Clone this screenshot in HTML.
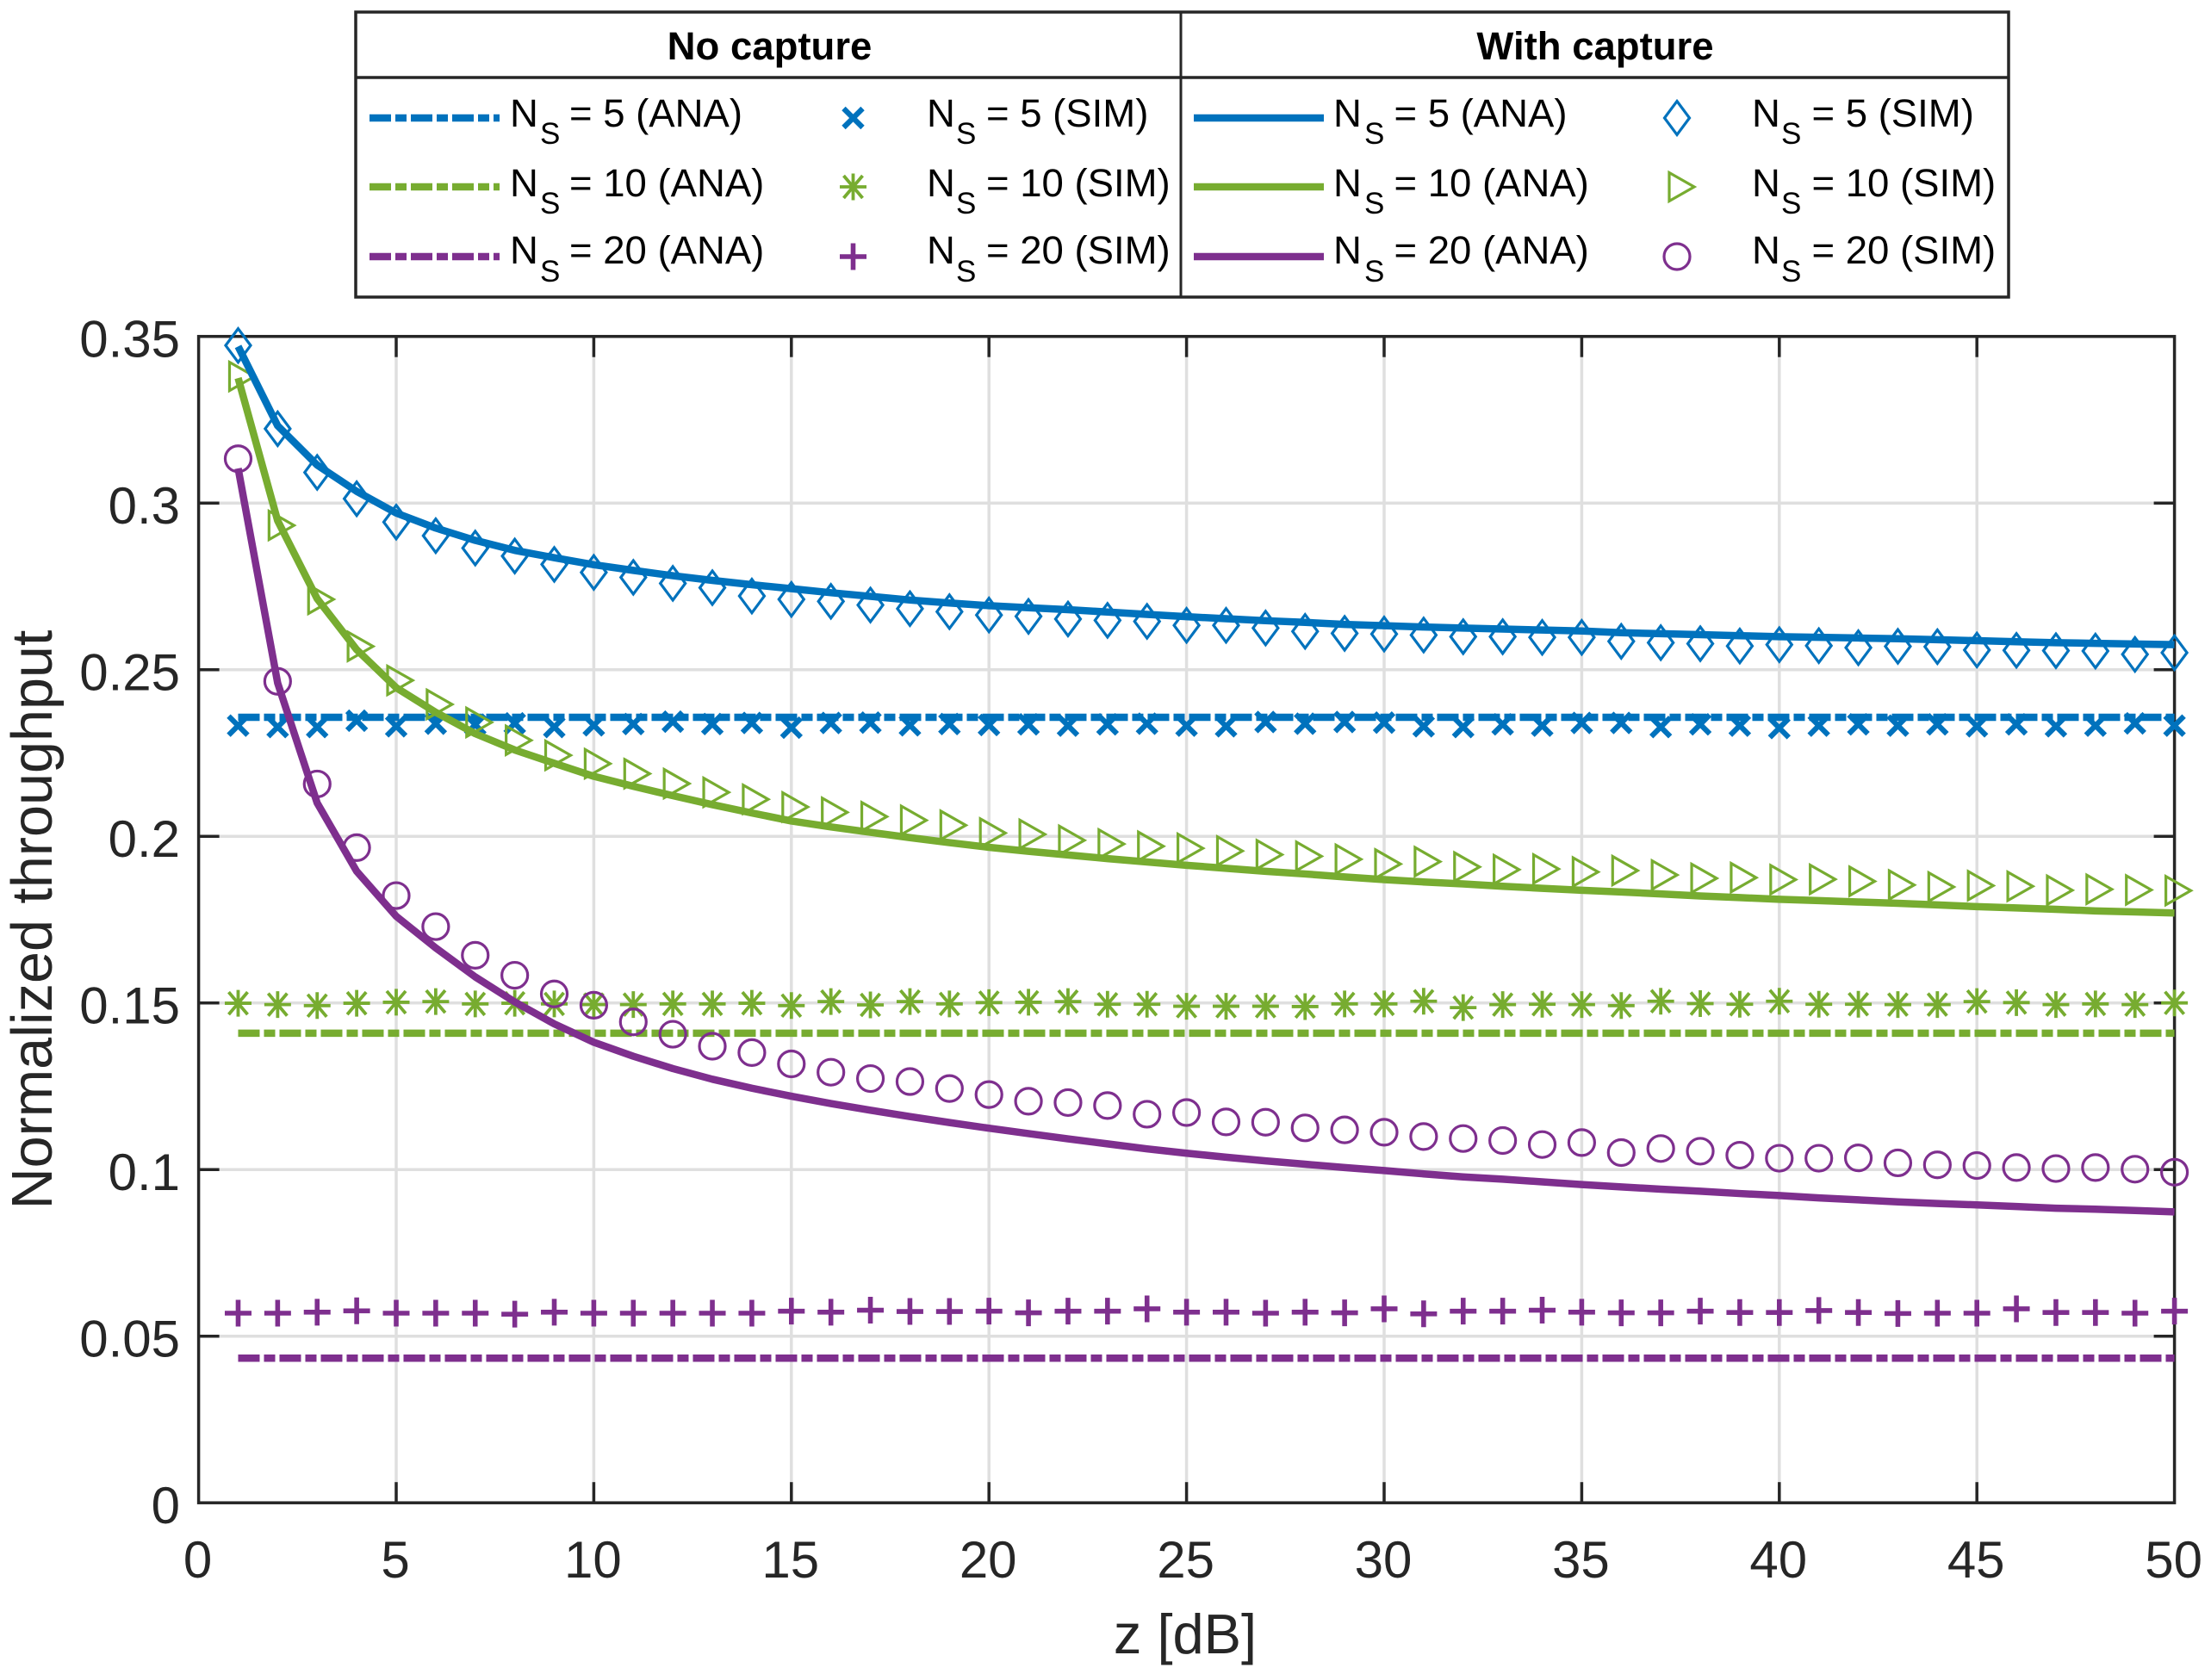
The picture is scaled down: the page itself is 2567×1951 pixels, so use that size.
<!DOCTYPE html>
<html lang="en">
<head>
<meta charset="utf-8">
<title>Normalized throughput vs z</title>
<style>
html,body{margin:0;padding:0;background:#fff;}
svg{display:block;font-family:"Liberation Sans",Arial,sans-serif;}
.lg{font-size:45.5px;fill:#000;}
.lg .sub{font-size:35px;}
.hd{font-size:45.5px;font-weight:bold;fill:#000;text-anchor:middle;}
.tick{font-size:60px;fill:#262626;}
.title{fill:#262626;}
</style>
</head>
<body>
<svg id="chart" xmlns="http://www.w3.org/2000/svg" width="2567" height="1951" viewBox="0 0 2567 1951">
  <rect x="0" y="0" width="2567" height="1951" fill="#ffffff"/>
  <g id="grid"></g>
  <g id="axes"></g>
  <g id="marks"></g>
  <text class="title" x="1376" y="1920" font-size="65" text-anchor="middle">z [dB]</text>
  <text class="title" transform="translate(60,1068) rotate(-90)" font-size="66.5" text-anchor="middle">Normalized throughput</text>

  <g id="legend">
    <rect x="413" y="14" width="1919" height="331" fill="#ffffff" stroke="#262626" stroke-width="3.5"/>
    <line x1="413" x2="2332" y1="90" y2="90" stroke="#262626" stroke-width="3.5"/>
    <line x1="1371" x2="1371" y1="14" y2="345" stroke="#262626" stroke-width="3"/>
    <text class="hd" x="893.5" y="69">No capture</text>
    <text class="hd" x="1852" y="69">With capture</text>

    <line x1="429" x2="580" y1="137" y2="137" stroke="#0072BD" stroke-width="8.5" stroke-dasharray="25 5 13 5"/>
    <line x1="429" x2="580" y1="217" y2="217" stroke="#77AC30" stroke-width="8.5" stroke-dasharray="25 5 13 5"/>
    <line x1="429" x2="580" y1="298" y2="298" stroke="#7E2F8E" stroke-width="8.5" stroke-dasharray="25 5 13 5"/>
    <line x1="1386" x2="1537" y1="137" y2="137" stroke="#0072BD" stroke-width="8.5"/>
    <line x1="1386" x2="1537" y1="217" y2="217" stroke="#77AC30" stroke-width="8.5"/>
    <line x1="1386" x2="1537" y1="298" y2="298" stroke="#7E2F8E" stroke-width="8.5"/>

    <text class="lg"><tspan x="592" y="147">N</tspan><tspan class="sub" x="627" y="167">S</tspan><tspan x="661" y="147">= 5 (ANA)</tspan></text>
    <text class="lg"><tspan x="592" y="228">N</tspan><tspan class="sub" x="627" y="248">S</tspan><tspan x="661" y="228">= 10 (ANA)</tspan></text>
    <text class="lg"><tspan x="592" y="306">N</tspan><tspan class="sub" x="627" y="327">S</tspan><tspan x="661" y="306">= 20 (ANA)</tspan></text>

    <text class="lg"><tspan x="1076" y="147">N</tspan><tspan class="sub" x="1110" y="167">S</tspan><tspan x="1145" y="147">= 5 (SIM)</tspan></text>
    <text class="lg"><tspan x="1076" y="228">N</tspan><tspan class="sub" x="1110" y="248">S</tspan><tspan x="1145" y="228">= 10 (SIM)</tspan></text>
    <text class="lg"><tspan x="1076" y="306">N</tspan><tspan class="sub" x="1110" y="327">S</tspan><tspan x="1145" y="306">= 20 (SIM)</tspan></text>

    <text class="lg"><tspan x="1548" y="147">N</tspan><tspan class="sub" x="1584" y="167">S</tspan><tspan x="1618.5" y="147">= 5 (ANA)</tspan></text>
    <text class="lg"><tspan x="1548" y="228">N</tspan><tspan class="sub" x="1584" y="248">S</tspan><tspan x="1618.5" y="228">= 10 (ANA)</tspan></text>
    <text class="lg"><tspan x="1548" y="306">N</tspan><tspan class="sub" x="1584" y="327">S</tspan><tspan x="1618.5" y="306">= 20 (ANA)</tspan></text>

    <text class="lg"><tspan x="2034" y="147">N</tspan><tspan class="sub" x="2068" y="167">S</tspan><tspan x="2103.5" y="147">= 5 (SIM)</tspan></text>
    <text class="lg"><tspan x="2034" y="228">N</tspan><tspan class="sub" x="2068" y="248">S</tspan><tspan x="2103.5" y="228">= 10 (SIM)</tspan></text>
    <text class="lg"><tspan x="2034" y="306">N</tspan><tspan class="sub" x="2068" y="327">S</tspan><tspan x="2103.5" y="306">= 20 (SIM)</tspan></text>
    <g id="legend-markers"></g>
  </g>
</svg>
<script>
const zValues = [1,2,3,4,5,6,7,8,9,10,11,12,13,14,15,16,17,18,19,20,21,22,23,24,25,26,27,28,29,30,31,32,33,34,35,36,37,38,39,40,41,42,43,44,45,46,47,48,49,50];
const xTicks = [0,5,10,15,20,25,30,35,40,45,50];
const yTicks = [0,0.05,0.1,0.15,0.2,0.25,0.3,0.35];
const yTickLabels = ['0','0.05','0.1','0.15','0.2','0.25','0.3','0.35'];

const anaNoCap5 = [.2357,.2357,.2357,.2357,.2357,.2357,.2357,.2357,.2357,.2357,.2357,.2357,.2357,.2357,.2357,.2357,.2357,.2357,.2357,.2357,.2357,.2357,.2357,.2357,.2357,.2357,.2357,.2357,.2357,.2357,.2357,.2357,.2357,.2357,.2357,.2357,.2357,.2357,.2357,.2357,.2357,.2357,.2357,.2357,.2357,.2357,.2357,.2357,.2357,.2357];
const anaNoCap10 = [.1409,.1409,.1409,.1409,.1409,.1409,.1409,.1409,.1409,.1409,.1409,.1409,.1409,.1409,.1409,.1409,.1409,.1409,.1409,.1409,.1409,.1409,.1409,.1409,.1409,.1409,.1409,.1409,.1409,.1409,.1409,.1409,.1409,.1409,.1409,.1409,.1409,.1409,.1409,.1409,.1409,.1409,.1409,.1409,.1409,.1409,.1409,.1409,.1409,.1409];
const anaNoCap20 = [.0434,.0434,.0434,.0434,.0434,.0434,.0434,.0434,.0434,.0434,.0434,.0434,.0434,.0434,.0434,.0434,.0434,.0434,.0434,.0434,.0434,.0434,.0434,.0434,.0434,.0434,.0434,.0434,.0434,.0434,.0434,.0434,.0434,.0434,.0434,.0434,.0434,.0434,.0434,.0434,.0434,.0434,.0434,.0434,.0434,.0434,.0434,.0434,.0434,.0434];

const simNoCap5 = [.2332,.2328,.2328,.2347,.2330,.2338,.2335,.2339,.2328,.2333,.2337,.2344,.2337,.2340,.2326,.2340,.2341,.2333,.2337,.2334,.2336,.2332,.2336,.2338,.2332,.2330,.2343,.2338,.2343,.2341,.2330,.2328,.2336,.2332,.2340,.2340,.2328,.2336,.2332,.2325,.2332,.2336,.2332,.2336,.2330,.2336,.2330,.2332,.2339,.2332];
const simNoCap10 = [.1499,.1495,.1492,.1499,.1502,.1504,.1497,.1499,.1497,.1495,.1495,.1497,.1497,.1499,.1492,.1504,.1494,.1504,.1497,.1501,.1502,.1504,.1496,.1496,.1490,.1490,.1490,.1489,.1497,.1497,.1505,.1486,.1495,.1496,.1495,.1492,.1505,.1498,.1496,.1505,.1496,.1496,.1495,.1495,.1504,.1501,.1495,.1497,.1495,.1500];
const simNoCap20 = [.0569,.0569,.0572,.0576,.0569,.0569,.0569,.0566,.0572,.0569,.0569,.0569,.0569,.0569,.0575,.0572,.0578,.0574,.0574,.0575,.0570,.0575,.0575,.0582,.0572,.0572,.0569,.0572,.0570,.0582,.0567,.0575,.0575,.0578,.0572,.0570,.0570,.0575,.0571,.0571,.0577,.0571,.0568,.0569,.0569,.0582,.0571,.0571,.0569,.0575];

const anaCap5 = [.3470,.3232,.3114,.3035,.2970,.2925,.2888,.2858,.2836,.2815,.2798,.2782,.2768,.2755,.2743,.2731,.2720,.2709,.2700,.2692,.2686,.2680,.2673,.2666,.2659,.2653,.2647,.2642,.2636,.2632,.2628,.2625,.2622,.2619,.2616,.2611,.2608,.2605,.2602,.2599,.2597,.2595,.2593,.2590,.2587,.2584,.2581,.2579,.2577,.2575];
const anaCap10 = [.3375,.2947,.2713,.2560,.2446,.2372,.2308,.2259,.2219,.2180,.2150,.2122,.2095,.2070,.2046,.2028,.2012,.1996,.1981,.1967,.1955,.1944,.1933,.1923,.1913,.1904,.1895,.1887,.1878,.1870,.1863,.1857,.1850,.1844,.1838,.1833,.1827,.1821,.1816,.1811,.1807,.1803,.1799,.1794,.1789,.1785,.1781,.1776,.1773,.1770];
const anaCap20 = [.3104,.2460,.2100,.1895,.1760,.1665,.1578,.1503,.1437,.1382,.1340,.1303,.1271,.1244,.1220,.1198,.1178,.1159,.1141,.1124,.1108,.1092,.1077,.1062,.1049,.1037,.1026,.1016,.1006,.0997,.0987,.0978,.0971,.0963,.0955,.0948,.0941,.0935,.0928,.0922,.0915,.0909,.0903,.0898,.0894,.0889,.0884,.0881,.0877,.0873];

const simCap5 = [.3473,.3223,.3092,.3013,.2943,.2902,.2865,.2841,.2816,.2792,.2777,.2759,.2746,.2721,.2711,.2705,.2694,.2683,.2674,.2664,.2660,.2652,.2648,.2645,.2633,.2633,.2625,.2615,.2609,.2607,.2604,.2599,.2599,.2597,.2597,.2585,.2581,.2578,.2571,.2575,.2572,.2566,.2570,.2569,.2559,.2558,.2557,.2556,.2546,.2551];
const simCap10 = [.3380,.2933,.2711,.2570,.2468,.2396,.2342,.2288,.2243,.2218,.2188,.2158,.2132,.2111,.2088,.2072,.2059,.2048,.2033,.2010,.2006,.1988,.1977,.1970,.1964,.1956,.1945,.1940,.1931,.1917,.1924,.1908,.1900,.1902,.1893,.1897,.1884,.1874,.1876,.1870,.1871,.1865,.1854,.1848,.1852,.1850,.1838,.1841,.1839,.1837];
const simCap20 = [.3133,.2465,.2157,.1966,.1822,.1729,.1643,.1583,.1527,.1493,.1443,.1406,.1370,.1351,.1317,.1292,.1273,.1264,.1243,.1225,.1205,.1201,.1192,.1166,.1171,.1143,.1142,.1125,.1119,.1112,.1099,.1093,.1087,.1075,.1081,.1051,.1063,.1055,.1043,.1034,.1034,.1035,.1020,.1014,.1012,.1006,.1003,.1006,.1001,.0992];

const BLUE = '#0072BD', GREEN = '#77AC30', PURPLE = '#7E2F8E', AXIS = '#262626', GRID = '#dfdfdf';
const NS = 'http://www.w3.org/2000/svg';
const PLOT = {left: 230.6, right: 2524.6, bottom: 1745.2, top: 390.7};
const xMax = 50, yMax = 0.35;
function xScale(z) { return PLOT.left + (PLOT.right - PLOT.left) * z / xMax; }
function yScale(v) { return PLOT.bottom - (PLOT.bottom - PLOT.top) * v / yMax; }

function mk(parent, tag, attrs) {
  const el = document.createElementNS(NS, tag);
  for (const k in attrs) el.setAttribute(k, attrs[k]);
  parent.appendChild(el);
  return el;
}

function markerPath(kind, cx, cy) {
  if (kind === 'x') {
    const a = 11;
    return `M${cx-a} ${cy-a}L${cx+a} ${cy+a}M${cx-a} ${cy+a}L${cx+a} ${cy-a}`;
  }
  if (kind === 'star') {
    const r = 15.5, d = 11;
    return `M${cx-r} ${cy}H${cx+r}M${cx} ${cy-r}V${cy+r}M${cx-d} ${cy-d-2}L${cx+d} ${cy+d+2}M${cx-d} ${cy+d+2}L${cx+d} ${cy-d-2}`;
  }
  if (kind === 'plus') {
    const r = 15.5;
    return `M${cx-r} ${cy}H${cx+r}M${cx} ${cy-r}V${cy+r}`;
  }
  if (kind === 'diamond') {
    const w = 14.5, h = 19.5;
    return `M${cx} ${cy-h}L${cx+w} ${cy}L${cx} ${cy+h}L${cx-w} ${cy}Z`;
  }
  if (kind === 'tri') {
    const l = 10, t = 19, h = 16.5;
    return `M${cx-l} ${cy-h}L${cx+t} ${cy}L${cx-l} ${cy+h}Z`;
  }
  return '';
}
const markerStroke = {x: 6.2, star: 3.8, plus: 5.6, diamond: 3.2, tri: 3.2, circle: 3.2};

function drawMarker(parent, kind, cx, cy, color) {
  let el;
  if (kind === 'circle') {
    el = mk(parent, 'circle', {cx: cx, cy: cy, r: 15, fill: 'none', stroke: color, 'stroke-width': markerStroke.circle});
  } else {
    el = mk(parent, 'path', {d: markerPath(kind, cx, cy), fill: 'none', stroke: color, 'stroke-width': markerStroke[kind], 'stroke-linejoin': 'miter'});
  }
  return el;
}

/* grid */
const gridG = document.getElementById('grid');
xTicks.forEach(function (t) {
  if (t === 0 || t === xMax) return;
  const gl = mk(gridG, 'line', {x1: xScale(t), x2: xScale(t), y1: PLOT.top, y2: PLOT.bottom, stroke: GRID, 'stroke-width': 3.5});
  
  
});
yTicks.forEach(function (t) {
  if (t === 0 || t === yMax) return;
  const gl = mk(gridG, 'line', {x1: PLOT.left, x2: PLOT.right, y1: yScale(t), y2: yScale(t), stroke: GRID, 'stroke-width': 3.5});
  
  
});

/* axes */
const axesG = document.getElementById('axes');
const TICK = 24;
xTicks.forEach(function (t) {
  const x = xScale(t);
  if (t !== 0 && t !== xMax) {
    const a = mk(axesG, 'line', {x1: x, x2: x, y1: PLOT.bottom, y2: PLOT.bottom - TICK, stroke: AXIS, 'stroke-width': 3.5});
    
    
    const b = mk(axesG, 'line', {x1: x, x2: x, y1: PLOT.top, y2: PLOT.top + TICK, stroke: AXIS, 'stroke-width': 3.5});
    
    
  }
  const lab = mk(axesG, 'text', {x: x - 1, y: 1832, 'text-anchor': 'middle', class: 'tick'});
  lab.textContent = String(t);
  
  
});
yTicks.forEach(function (t, i) {
  const y = yScale(t);
  if (t !== 0 && t !== yMax) {
    const a = mk(axesG, 'line', {x1: PLOT.left, x2: PLOT.left + TICK, y1: y, y2: y, stroke: AXIS, 'stroke-width': 3.5});
    
    
    const b = mk(axesG, 'line', {x1: PLOT.right, x2: PLOT.right - TICK, y1: y, y2: y, stroke: AXIS, 'stroke-width': 3.5});
    
    
  }
  const lab = mk(axesG, 'text', {x: 209, y: y + 24, 'text-anchor': 'end', class: 'tick'});
  lab.textContent = yTickLabels[i];
  
  
});
const box = mk(axesG, 'rect', {x: PLOT.left, y: PLOT.top, width: PLOT.right - PLOT.left, height: PLOT.bottom - PLOT.top, fill: 'none', stroke: AXIS, 'stroke-width': 3.5});



/* series */
const marksG = document.getElementById('marks');
function drawLine(values, color, dashed, name) {
  const d = values.map(function (v, i) {
    return (i ? 'L' : 'M') + xScale(zValues[i]).toFixed(2) + ' ' + yScale(v).toFixed(2);
  }).join('');
  const p = mk(marksG, 'path', {d: d, fill: 'none', stroke: color, 'stroke-width': 8.5, 'stroke-linejoin': 'round', 'stroke-linecap': 'butt'});
  if (dashed) p.setAttribute('stroke-dasharray', '25 5 13 5');
  
  
}
function drawPoints(values, kind, color, name) {
  const g = mk(marksG, 'g', {});
  
  
  values.forEach(function (v, i) {
    const m = drawMarker(g, kind, xScale(zValues[i]), yScale(v), color);
    
    
  });
}
drawPoints(simNoCap5, 'x', BLUE, 'sim-no-capture-ns5');
drawPoints(simNoCap10, 'star', GREEN, 'sim-no-capture-ns10');
drawPoints(simNoCap20, 'plus', PURPLE, 'sim-no-capture-ns20');
drawLine(anaNoCap5, BLUE, true, 'ana-no-capture-ns5');
drawLine(anaNoCap10, GREEN, true, 'ana-no-capture-ns10');
drawLine(anaNoCap20, PURPLE, true, 'ana-no-capture-ns20');
drawPoints(simCap5, 'diamond', BLUE, 'sim-capture-ns5');
drawPoints(simCap10, 'tri', GREEN, 'sim-capture-ns10');
drawPoints(simCap20, 'circle', PURPLE, 'sim-capture-ns20');
drawLine(anaCap5, BLUE, false, 'ana-capture-ns5');
drawLine(anaCap10, GREEN, false, 'ana-capture-ns10');
drawLine(anaCap20, PURPLE, false, 'ana-capture-ns20');

/* legend markers */
const lm = document.getElementById('legend-markers');
const lm1 = drawMarker(lm, 'x', 990.5, 137, BLUE);


const lm2 = drawMarker(lm, 'star', 990.5, 217, GREEN);


const lm3 = drawMarker(lm, 'plus', 990.5, 298, PURPLE);


const lm4 = drawMarker(lm, 'diamond', 1947, 137, BLUE);


const lm5 = drawMarker(lm, 'tri', 1948, 217, GREEN);


const lm6 = drawMarker(lm, 'circle', 1947, 298, PURPLE);


</script>
</body>
</html>
